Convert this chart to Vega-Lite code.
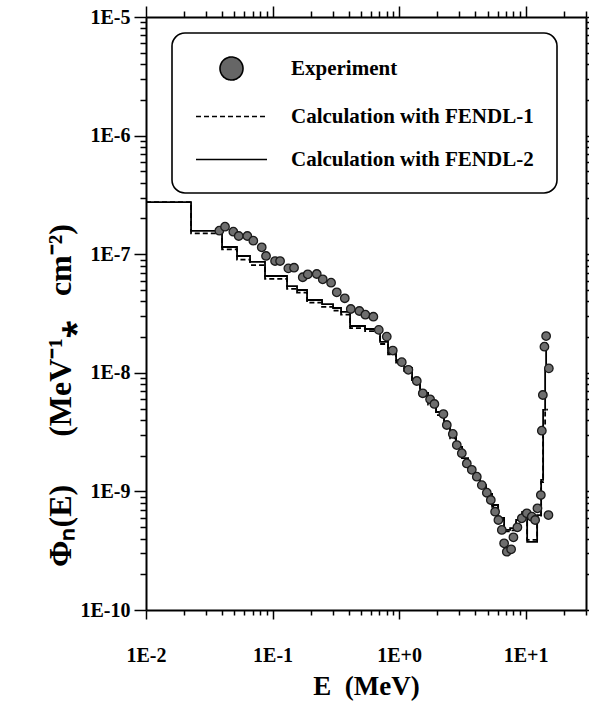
{
  "$schema": "https://vega.github.io/schema/vega-lite/v6.json",
  "width": 440,
  "height": 593,
  "autosize": {"type": "none"},
  "padding": {"left": 146, "top": 17, "right": 3, "bottom": 99},
  "background": "white",
  "config": {
    "view": {"stroke": null},
    "axis": {
      "grid": false,
      "domainColor": "black",
      "domainWidth": 2,
      "tickColor": "black",
      "tickWidth": 1.5,
      "labelFont": "Liberation Serif",
      "labelFontWeight": "bold",
      "labelFontSize": 20,
      "labelColor": "black",
      "titleFont": "Liberation Serif",
      "titleFontWeight": "bold",
      "titleColor": "black"
    }
  },
  "datasets": {
    "lines": [
      {"E": 0.01, "phi": 2.75e-7, "series": "Calculation with FENDL-2"},
      {"E": 0.0227, "phi": 1.57e-7, "series": "Calculation with FENDL-2"},
      {"E": 0.0399, "phi": 1.15e-7, "series": "Calculation with FENDL-2"},
      {"E": 0.0524, "phi": 9.66e-8, "series": "Calculation with FENDL-2"},
      {"E": 0.0664, "phi": 8.6e-8, "series": "Calculation with FENDL-2"},
      {"E": 0.0872, "phi": 6.55e-8, "series": "Calculation with FENDL-2"},
      {"E": 0.1302, "phi": 5.39e-8, "series": "Calculation with FENDL-2"},
      {"E": 0.1562, "phi": 4.99e-8, "series": "Calculation with FENDL-2"},
      {"E": 0.1874, "phi": 4.11e-8, "series": "Calculation with FENDL-2"},
      {"E": 0.2462, "phi": 3.8e-8, "series": "Calculation with FENDL-2"},
      {"E": 0.3008, "phi": 3.52e-8, "series": "Calculation with FENDL-2"},
      {"E": 0.3479, "phi": 3.26e-8, "series": "Calculation with FENDL-2"},
      {"E": 0.4099, "phi": 2.48e-8, "series": "Calculation with FENDL-2"},
      {"E": 0.5385, "phi": 2.34e-8, "series": "Calculation with FENDL-2"},
      {"E": 0.7075, "phi": 1.82e-8, "series": "Calculation with FENDL-2"},
      {"E": 0.818, "phi": 1.5e-8, "series": "Calculation with FENDL-2"},
      {"E": 0.947, "phi": 1.28e-8, "series": "Calculation with FENDL-2"},
      {"E": 1.095, "phi": 1.1e-8, "series": "Calculation with FENDL-2"},
      {"E": 1.267, "phi": 8.7e-9, "series": "Calculation with FENDL-2"},
      {"E": 1.466, "phi": 6.76e-9, "series": "Calculation with FENDL-2"},
      {"E": 1.695, "phi": 5.67e-9, "series": "Calculation with FENDL-2"},
      {"E": 1.961, "phi": 4.67e-9, "series": "Calculation with FENDL-2"},
      {"E": 2.268, "phi": 3.7e-9, "series": "Calculation with FENDL-2"},
      {"E": 2.531, "phi": 2.93e-9, "series": "Calculation with FENDL-2"},
      {"E": 2.822, "phi": 2.37e-9, "series": "Calculation with FENDL-2"},
      {"E": 3.148, "phi": 1.91e-9, "series": "Calculation with FENDL-2"},
      {"E": 3.512, "phi": 1.58e-9, "series": "Calculation with FENDL-2"},
      {"E": 3.917, "phi": 1.35e-9, "series": "Calculation with FENDL-2"},
      {"E": 4.369, "phi": 1.13e-9, "series": "Calculation with FENDL-2"},
      {"E": 4.873, "phi": 9.51e-10, "series": "Calculation with FENDL-2"},
      {"E": 5.436, "phi": 7.68e-10, "series": "Calculation with FENDL-2"},
      {"E": 6.063, "phi": 5.97e-10, "series": "Calculation with FENDL-2"},
      {"E": 6.761, "phi": 4.73e-10, "series": "Calculation with FENDL-2"},
      {"E": 7.543, "phi": 4.91e-10, "series": "Calculation with FENDL-2"},
      {"E": 8.413, "phi": 5.74e-10, "series": "Calculation with FENDL-2"},
      {"E": 9.382, "phi": 6.71e-10, "series": "Calculation with FENDL-2"},
      {"E": 10.28, "phi": 3.75e-10, "series": "Calculation with FENDL-2"},
      {"E": 12.33, "phi": 6.32e-10, "series": "Calculation with FENDL-2"},
      {"E": 13.26, "phi": 1.25e-9, "series": "Calculation with FENDL-2"},
      {"E": 13.75, "phi": 4.86e-9, "series": "Calculation with FENDL-2"},
      {"E": 14.26, "phi": 1.06e-8, "series": "Calculation with FENDL-2"},
      {"E": 14.52, "phi": 1.78e-8, "series": "Calculation with FENDL-2"},
      {"E": 14.79, "phi": 1.78e-8, "series": "Calculation with FENDL-2"},
      {"E": 0.01, "phi": 2.75e-7, "series": "Calculation with FENDL-1"},
      {"E": 0.0227, "phi": 1.5e-7, "series": "Calculation with FENDL-1"},
      {"E": 0.0399, "phi": 1.1e-7, "series": "Calculation with FENDL-1"},
      {"E": 0.0524, "phi": 9.0e-8, "series": "Calculation with FENDL-1"},
      {"E": 0.0664, "phi": 8.1e-8, "series": "Calculation with FENDL-1"},
      {"E": 0.0872, "phi": 6.2e-8, "series": "Calculation with FENDL-1"},
      {"E": 0.1302, "phi": 5.1e-8, "series": "Calculation with FENDL-1"},
      {"E": 0.1562, "phi": 4.75e-8, "series": "Calculation with FENDL-1"},
      {"E": 0.1874, "phi": 3.9e-8, "series": "Calculation with FENDL-1"},
      {"E": 0.2462, "phi": 3.6e-8, "series": "Calculation with FENDL-1"},
      {"E": 0.3008, "phi": 3.35e-8, "series": "Calculation with FENDL-1"},
      {"E": 0.3479, "phi": 3.1e-8, "series": "Calculation with FENDL-1"},
      {"E": 0.4099, "phi": 2.38e-8, "series": "Calculation with FENDL-1"},
      {"E": 0.5385, "phi": 2.25e-8, "series": "Calculation with FENDL-1"},
      {"E": 0.7075, "phi": 1.75e-8, "series": "Calculation with FENDL-1"},
      {"E": 0.818, "phi": 1.43e-8, "series": "Calculation with FENDL-1"},
      {"E": 0.947, "phi": 1.22e-8, "series": "Calculation with FENDL-1"},
      {"E": 1.095, "phi": 1.04e-8, "series": "Calculation with FENDL-1"},
      {"E": 1.267, "phi": 8.2e-9, "series": "Calculation with FENDL-1"},
      {"E": 1.466, "phi": 6.4e-9, "series": "Calculation with FENDL-1"},
      {"E": 1.695, "phi": 5.4e-9, "series": "Calculation with FENDL-1"},
      {"E": 1.961, "phi": 4.4e-9, "series": "Calculation with FENDL-1"},
      {"E": 2.268, "phi": 3.5e-9, "series": "Calculation with FENDL-1"},
      {"E": 2.531, "phi": 2.8e-9, "series": "Calculation with FENDL-1"},
      {"E": 2.822, "phi": 2.25e-9, "series": "Calculation with FENDL-1"},
      {"E": 3.148, "phi": 1.82e-9, "series": "Calculation with FENDL-1"},
      {"E": 3.512, "phi": 1.5e-9, "series": "Calculation with FENDL-1"},
      {"E": 3.917, "phi": 1.28e-9, "series": "Calculation with FENDL-1"},
      {"E": 4.369, "phi": 1.08e-9, "series": "Calculation with FENDL-1"},
      {"E": 4.873, "phi": 9.1e-10, "series": "Calculation with FENDL-1"},
      {"E": 5.436, "phi": 7.4e-10, "series": "Calculation with FENDL-1"},
      {"E": 6.063, "phi": 5.8e-10, "series": "Calculation with FENDL-1"},
      {"E": 6.761, "phi": 4.6e-10, "series": "Calculation with FENDL-1"},
      {"E": 7.543, "phi": 4.7e-10, "series": "Calculation with FENDL-1"},
      {"E": 8.413, "phi": 5.5e-10, "series": "Calculation with FENDL-1"},
      {"E": 9.382, "phi": 6.5e-10, "series": "Calculation with FENDL-1"},
      {"E": 10.28, "phi": 3.9e-10, "series": "Calculation with FENDL-1"},
      {"E": 12.33, "phi": 6.1e-10, "series": "Calculation with FENDL-1"},
      {"E": 13.26, "phi": 1.2e-9, "series": "Calculation with FENDL-1"},
      {"E": 13.75, "phi": 3.6e-9, "series": "Calculation with FENDL-1"},
      {"E": 14.26, "phi": 4.9e-9, "series": "Calculation with FENDL-1"},
      {"E": 15.0, "phi": 4.9e-9, "series": "Calculation with FENDL-1"}
    ],
    "points": [
      {"E": 0.03797, "phi": 1.578e-7},
      {"E": 0.04212, "phi": 1.706e-7},
      {"E": 0.04899, "phi": 1.548e-7},
      {"E": 0.05405, "phi": 1.424e-7},
      {"E": 0.06322, "phi": 1.424e-7},
      {"E": 0.07048, "phi": 1.3e-7},
      {"E": 0.08214, "phi": 1.143e-7},
      {"E": 0.08883, "phi": 9.66e-8},
      {"E": 0.1047, "phi": 8.76e-8},
      {"E": 0.1147, "phi": 8.76e-8},
      {"E": 0.1333, "phi": 7.6e-8},
      {"E": 0.1479, "phi": 7.69e-8},
      {"E": 0.1733, "phi": 6.39e-8},
      {"E": 0.1898, "phi": 6.77e-8},
      {"E": 0.2236, "phi": 6.81e-8},
      {"E": 0.2493, "phi": 6.14e-8},
      {"E": 0.2901, "phi": 5.75e-8},
      {"E": 0.3218, "phi": 4.77e-8},
      {"E": 0.3723, "phi": 4.25e-8},
      {"E": 0.4151, "phi": 3.45e-8},
      {"E": 0.4856, "phi": 3.32e-8},
      {"E": 0.5415, "phi": 3.09e-8},
      {"E": 0.6263, "phi": 2.97e-8},
      {"E": 0.6912, "phi": 2.3e-8},
      {"E": 0.7994, "phi": 2.02e-8},
      {"E": 0.8917, "phi": 1.54e-8},
      {"E": 1.05, "phi": 1.23e-8},
      {"E": 1.184, "phi": 1.06e-8},
      {"E": 1.38, "phi": 8.53e-9},
      {"E": 1.539, "phi": 6.72e-9},
      {"E": 1.758, "phi": 5.98e-9},
      {"E": 1.901, "phi": 5.46e-9},
      {"E": 2.24, "phi": 4.49e-9},
      {"E": 2.383, "phi": 3.63e-9},
      {"E": 2.658, "phi": 3.05e-9},
      {"E": 2.858, "phi": 2.46e-9},
      {"E": 3.131, "phi": 2.1e-9},
      {"E": 3.429, "phi": 1.72e-9},
      {"E": 3.756, "phi": 1.52e-9},
      {"E": 4.113, "phi": 1.33e-9},
      {"E": 4.506, "phi": 1.13e-9},
      {"E": 4.935, "phi": 9.75e-10},
      {"E": 5.307, "phi": 8.46e-10},
      {"E": 5.739, "phi": 6.74e-10},
      {"E": 6.095, "phi": 5.74e-10},
      {"E": 6.484, "phi": 4.73e-10},
      {"E": 6.761, "phi": 3.65e-10},
      {"E": 7.1, "phi": 3.1e-10},
      {"E": 7.68, "phi": 3.25e-10},
      {"E": 8.01, "phi": 4.1e-10},
      {"E": 8.61, "phi": 4.98e-10},
      {"E": 9.33, "phi": 5.93e-10},
      {"E": 10.22, "phi": 6.54e-10},
      {"E": 11.19, "phi": 6.12e-10},
      {"E": 11.89, "phi": 5.74e-10},
      {"E": 12.4, "phi": 7.2e-10},
      {"E": 13.19, "phi": 9.32e-10},
      {"E": 13.43, "phi": 3.25e-9},
      {"E": 13.68, "phi": 6.5e-9},
      {"E": 14.08, "phi": 1.66e-8},
      {"E": 14.52, "phi": 2.04e-8},
      {"E": 15.26, "phi": 1.09e-8},
      {"E": 15.15, "phi": 6.32e-10}
    ]
  },
  "resolve": {"axis": {"x": "independent", "y": "independent"}},
  "layer": [
    {
      "data": {"name": "lines"},
      "mark": {"type": "line", "interpolate": "step-after", "color": "black", "strokeWidth": 1.8, "clip": true},
      "encoding": {
        "x": {
          "field": "E", "type": "quantitative",
          "scale": {"type": "log", "domain": [0.01, 30], "nice": false},
          "axis": {
            "orient": "bottom",
            "values": [0.01,0.02,0.03,0.04,0.05,0.06,0.07,0.08,0.09,0.1,0.2,0.3,0.4,0.5,0.6,0.7,0.8,0.9,1,2,3,4,5,6,7,8,9,10,20,30],
            "labelExpr": "abs(log(datum.value)/LN10 - round(log(datum.value)/LN10)) < 0.000001 ? '1E' + (round(log(datum.value)/LN10) >= 0 ? '+' : '') + round(log(datum.value)/LN10) : ''",
            "labelOverlap": false,
            "labelFlush": false,
            "tickSize": {"condition": {"test": "abs(log(datum.value)/LN10 - round(log(datum.value)/LN10)) < 0.000001", "value": 9}, "value": 5},
            "labelPadding": 26,
            "title": "E\u00a0\u00a0(MeV)",
            "titleFontSize": 27,
            "titlePadding": 8
          }
        },
        "y": {
          "field": "phi", "type": "quantitative",
          "scale": {"type": "log", "domain": [1e-10, 1e-5], "nice": false},
          "axis": {
            "orient": "left",
            "values": [1e-10,2e-10,3e-10,4e-10,5e-10,6e-10,7e-10,8e-10,9e-10,1e-9,2e-9,3e-9,4e-9,5e-9,6e-9,7e-9,8e-9,9e-9,1e-8,2e-8,3e-8,4e-8,5e-8,6e-8,7e-8,8e-8,9e-8,1e-7,2e-7,3e-7,4e-7,5e-7,6e-7,7e-7,8e-7,9e-7,1e-6,2e-6,3e-6,4e-6,5e-6,6e-6,7e-6,8e-6,9e-6,1e-5],
            "labelExpr": "abs(log(datum.value)/LN10 - round(log(datum.value)/LN10)) < 0.000001 ? '1E' + round(log(datum.value)/LN10) : ''",
            "labelOverlap": false,
            "labelFlush": false,
            "tickSize": {"condition": {"test": "abs(log(datum.value)/LN10 - round(log(datum.value)/LN10)) < 0.000001", "value": 12}, "value": 6},
            "labelPadding": 4,
            "title": "Φₙ(E)\u00a0\u00a0\u00a0\u00a0\u00a0\u00a0(MeV⁻¹⁎\u00a0\u00a0\u00a0cm⁻²)",
            "titleFontSize": 32,
            "titleX": -69,
            "titleY": 378,
            "titleAngle": 270
          }
        },
        "strokeDash": {
          "field": "series", "type": "nominal",
          "scale": {
            "domain": ["Experiment", "Calculation with FENDL-1", "Calculation with FENDL-2"],
            "range": [[1, 0], [5, 3], [1, 0]]
          },
          "legend": {
            "title": null,
            "orient": "none",
            "legendX": 26,
            "legendY": 16,
            "padding": 23,
            "cornerRadius": 13,
            "strokeColor": "black",
            "fillColor": "white",
            "symbolSize": 529,
            "symbolOffset": 24,
            "symbolStrokeColor": "black",
            "symbolStrokeWidth": 1.6,
            "labelOffset": 47,
            "rowPadding": 20,
            "labelFont": "Liberation Serif",
            "labelFontWeight": "bold",
            "labelFontSize": 21,
            "labelColor": "black",
            "labelLimit": 400,
            "labelExpr": "datum.label + '\u00a0\u00a0'",
            "encode": {
              "legend": {"update": {"strokeWidth": {"value": 1.6}}},
              "symbols": {
                "update": {
                  "shape": {"signal": "datum.value === 'Experiment' ? 'circle' : 'M-3.087,0H3.087'"},
                  "fill": {"signal": "datum.value === 'Experiment' ? '#666666' : 'transparent'"},
                  "stroke": {"value": "black"},
                  "opacity": {"value": 1}
                }
              }
            }
          }
        }
      }
    },
    {
      "data": {"name": "points"},
      "mark": {"type": "circle", "size": 72, "fill": "#6e6e6e", "stroke": "#1a1a1a", "strokeWidth": 1.3, "opacity": 1},
      "encoding": {
        "x": {
          "field": "E", "type": "quantitative",
          "scale": {"type": "log", "domain": [0.01, 30], "nice": false},
          "axis": {
            "orient": "top",
            "values": [0.01,0.02,0.03,0.04,0.05,0.06,0.07,0.08,0.09,0.1,0.2,0.3,0.4,0.5,0.6,0.7,0.8,0.9,1,2,3,4,5,6,7,8,9,10,20,30],
            "labels": false,
            "title": null,
            "tickSize": {"condition": {"test": "abs(log(datum.value)/LN10 - round(log(datum.value)/LN10)) < 0.000001", "value": 11}, "value": 6}
          }
        },
        "y": {
          "field": "phi", "type": "quantitative",
          "scale": {"type": "log", "domain": [1e-10, 1e-5], "nice": false},
          "axis": {
            "orient": "right",
            "values": [1e-10,2e-10,3e-10,4e-10,5e-10,6e-10,7e-10,8e-10,9e-10,1e-9,2e-9,3e-9,4e-9,5e-9,6e-9,7e-9,8e-9,9e-9,1e-8,2e-8,3e-8,4e-8,5e-8,6e-8,7e-8,8e-8,9e-8,1e-7,2e-7,3e-7,4e-7,5e-7,6e-7,7e-7,8e-7,9e-7,1e-6,2e-6,3e-6,4e-6,5e-6,6e-6,7e-6,8e-6,9e-6,1e-5],
            "labels": false,
            "title": null,
            "tickSize": 5
          }
        }
      }
    }
  ]
}
